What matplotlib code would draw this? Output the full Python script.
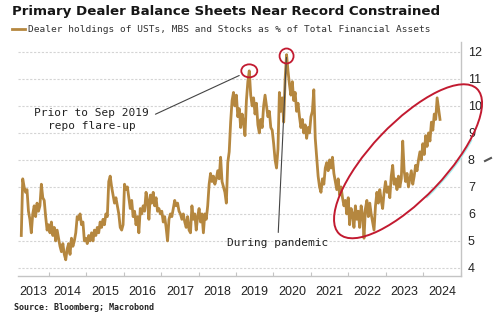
import pandas as pd
import matplotlib
matplotlib.use("Agg")
import matplotlib.pyplot as plt
from matplotlib.patches import Ellipse, Arc
from matplotlib.lines import Line2D
from matplotlib.transforms import IdentityTransform

# Dealer holdings of USTs, MBS and stocks as % of total financial assets,
# sampled every two weeks starting 2013-04-05
y2013 = [5.2, 7.3, 7.0, 6.8, 6.9, 6.1, 5.8, 5.3, 6.0, 6.3, 5.9, 6.4, 6.1, 6.3,
         7.1, 6.6, 6.5, 5.9, 5.4]
y2014 = [5.6, 5.3, 5.7, 5.2, 5.5, 5.0, 5.4, 5.1, 4.8, 4.6, 4.9, 4.5, 4.3, 4.7,
         4.9, 4.5, 5.1, 4.8, 5.0, 5.3, 5.9, 5.8, 6.0, 5.6, 5.7, 5.0]
y2015 = [5.1, 4.9, 5.2, 5.0, 5.3, 5.0, 5.4, 5.2, 5.5, 5.3, 5.7, 5.5, 5.8, 5.6,
         6.0, 5.9, 7.2, 7.4, 7.0, 6.7, 6.4, 6.6, 6.3, 6.0, 5.5, 5.4]
y2016 = [5.6, 7.1, 6.9, 7.0, 6.6, 6.2, 6.5, 5.9, 6.1, 5.6, 5.9, 5.3, 6.2, 6.0,
         6.3, 6.1, 6.8, 6.5, 5.8, 6.7, 6.4, 6.8, 6.3, 6.6, 6.1, 6.2]
y2017 = [6.0, 6.1, 5.7, 5.9, 5.5, 5.0, 5.8, 6.0, 5.9, 6.2, 6.5, 6.3, 6.4, 6.1,
         6.0, 5.8, 6.0, 5.7, 5.5, 5.9, 5.4, 5.3, 6.3, 5.8, 6.0, 5.4]
y2018 = [5.9, 6.2, 5.7, 6.0, 5.3, 6.0, 5.8, 6.3, 7.1, 7.5, 7.2, 7.4, 7.1, 7.3,
         7.6, 7.3, 8.1, 7.2, 7.0, 6.8, 6.4, 7.9, 8.3, 9.4, 10.2, 10.5]
y2019 = [10.0, 10.4, 9.6, 9.9, 9.2, 9.7, 9.4, 8.9, 10.2, 10.9, 11.3, 10.4, 10.0,
         10.3, 9.7, 10.1, 9.3, 9.0, 9.5, 9.2, 10.0, 10.4, 10.0, 9.6, 9.8, 9.2]
y2020 = [9.1, 8.6, 8.0, 7.7, 8.4, 10.5, 9.8, 10.3, 9.4, 11.0, 11.9, 11.3, 10.8,
         10.4, 10.9, 10.2, 10.5, 9.8, 10.1, 9.6, 9.2, 9.5, 9.0, 9.3, 8.8, 9.2]
y2021 = [9.0, 9.6, 9.8, 10.6, 8.8, 8.1, 7.4, 7.0, 6.8, 7.3, 7.1, 7.7, 7.9, 7.6,
         8.0, 7.7, 8.1, 7.5, 7.2, 6.9, 7.3, 6.7, 7.0, 6.6, 6.3, 6.5]
y2022 = [6.0, 6.6, 5.6, 6.2, 6.0, 5.5, 6.3, 5.8, 6.1, 5.5, 6.3, 6.0, 5.1, 6.2,
         6.5, 5.9, 6.4, 6.0, 5.7, 5.4, 6.3, 6.8, 6.4, 6.9, 6.5, 6.2]
y2023 = [6.8, 7.2, 6.8, 7.0, 6.6, 7.4, 7.8, 7.1, 7.3, 6.9, 7.4, 7.0, 7.3, 8.7,
         7.6, 7.2, 7.5, 7.0, 7.3, 7.6, 7.1, 7.4, 7.8, 7.6, 8.0, 8.3]
y2024 = [8.0, 8.6, 8.2, 8.9, 8.5, 9.0, 8.7, 9.4, 9.1, 9.7, 9.5, 10.3, 9.9, 9.5]

year_labels = [str(y) for y in range(2013, 2025)]
y_ticks = [4, 5, 6, 7, 8, 9, 10, 11, 12]

title = "Primary Dealer Balance Sheets Near Record Constrained"
subtitle = "Dealer holdings of USTs, MBS and Stocks as % of Total Financial Assets"
source = "Source: Bloomberg; Macrobond"
note_repo = "Prior to Sep 2019\nrepo flare-up"
note_pandemic = "During pandemic"

values = (y2013 + y2014 + y2015 + y2016 + y2017 + y2018 + y2019 + y2020
          + y2021 + y2022 + y2023 + y2024)
dates = pd.date_range("2013-04-05", periods=len(values), freq="14D")
series = pd.Series(values, index=dates)

LINE = "#B5873F"
RED = "#C21A30"
TXT = "#222222"
GRID = "#d4d4d4"
AXC = "#c4c4c4"

W, H = 500, 323
fig = plt.figure(figsize=(W / 100, H / 100), dpi=100)
fig.patch.set_facecolor("white")
ax = fig.add_axes([18 / W, 47 / H, (461 - 18) / W, (280.5 - 47) / H])

ax.plot(series.index, series.values, color=LINE, lw=2.0,
        solid_joinstyle="round", zorder=3)

x0 = pd.Timestamp("2013-03-04")
x1 = pd.Timestamp("2025-01-05")
ax.set_xlim(x0, x1)
ax.set_ylim(3.7, 12.35)

# year boundaries as tick marks, year names centred in each year
bounds = [pd.Timestamp(f"{y}-01-01") for y in range(2014, 2026)]
ax.set_xticks(bounds)
ax.set_xticklabels([])
centres = [x0 + (bounds[0] - x0) / 2] + [
    bounds[i] + (bounds[i + 1] - bounds[i]) / 2 for i in range(len(bounds) - 1)]
ax.set_xticks(centres, minor=True)
ax.set_xticklabels(year_labels, minor=True)
ax.tick_params(axis="x", which="major", direction="in", length=3,
               color=AXC, width=0.8)
ax.tick_params(axis="x", which="minor", length=0, pad=7,
               labelsize=9, labelcolor=TXT)
for lab in ax.get_xticklabels(minor=True):
    lab.set_fontfamily("Liberation Sans")

ax.yaxis.tick_right()
ax.set_yticks(y_ticks)
ax.set_yticklabels([str(v) for v in y_ticks])
ax.tick_params(axis="y", length=0, pad=5, labelsize=9, labelcolor=TXT)
for lab in ax.get_yticklabels():
    lab.set_fontfamily("Liberation Sans")

ax.grid(axis="y", color=GRID, lw=0.8, ls=(0, (2, 1.5)))
ax.set_axisbelow(True)
for side in ("top", "left"):
    ax.spines[side].set_visible(False)
for side in ("bottom", "right"):
    ax.spines[side].set_color(AXC)
    ax.spines[side].set_linewidth(1.0)

# header and footer
fig.text(12 / W, 1 - 11.7 / H, title, fontsize=9.65, fontweight="bold",
         color="#161616", ha="left", va="center", family="DejaVu Sans")
fig.add_artist(Line2D([12 / W, 25 / W], [1 - 28.5 / H] * 2,
                      color=LINE, lw=2))
fig.text(28 / W, 1 - 29 / H, subtitle, fontsize=6.8, color="#333333",
         ha="left", va="center", family="DejaVu Sans Mono")
fig.text(14 / W, 1 - 308 / H, source, fontsize=6.0, fontweight="bold",
         color="#222222", ha="left", va="center", family="DejaVu Sans Mono")

# the two peaks that get circled
p19 = series["2019"].idxmax()
p20 = series["2020"].idxmax()
v19 = series[p19]
v20 = series[p20]

ax.annotate(note_repo, xy=(p19, v19), xycoords="data",
            xytext=(91.5, H - 119.5), textcoords="figure pixels",
            ha="center", va="center", multialignment="center",
            fontsize=8, family="DejaVu Sans Mono", color=TXT,
            linespacing=1.3,
            arrowprops=dict(arrowstyle="-", color="#444444", lw=0.8,
                            relpos=(1.0, 0.6), shrinkA=3, shrinkB=8))
ax.annotate(note_pandemic, xy=(p20, v20), xycoords="data",
            xytext=(278, H - 243), textcoords="figure pixels",
            ha="center", va="center",
            fontsize=8, family="DejaVu Sans Mono", color=TXT,
            arrowprops=dict(arrowstyle="-", color="#444444", lw=0.8,
                            relpos=(0.5, 1.0), shrinkA=2, shrinkB=2))

ident = IdentityTransform()
c19 = ax.transData.transform((matplotlib.dates.date2num(p19), v19))
c20 = ax.transData.transform((matplotlib.dates.date2num(p20), v20 - 0.05))
fig.add_artist(Ellipse(c19, 16, 13, fill=False, ec=RED, lw=1.3,
                       transform=ident))
fig.add_artist(Ellipse(c20, 14, 15, fill=False, ec=RED, lw=1.3,
                       transform=ident))

# ellipse round the 2022-2024 climb
cen = ax.transData.transform(
    (matplotlib.dates.date2num(pd.Timestamp("2023-08-07")), 7.95))
fig.add_artist(Arc(cen, 203, 78, angle=46.5, theta1=250, theta2=332,
                   ec="#a6efee", lw=1.0, transform=ident))
fig.add_artist(Ellipse(cen, 200, 75, angle=46.5, fill=False, ec=RED,
                       lw=1.4, transform=ident))

# small pen mark beside the 8 label
fig.add_artist(Line2D([485 / W, 491 / W], [1 - 161 / H, 1 - 158 / H],
                      color="#555555", lw=1.5))

fig.savefig("out.png", dpi=100, facecolor="white")
